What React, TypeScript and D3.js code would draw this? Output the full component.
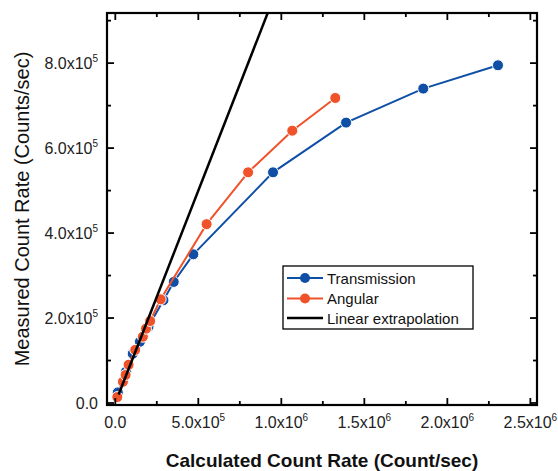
import React, { useEffect, useRef } from "react";
import * as d3 from "d3";

const transX = [1.5e4, 6.5e4, 1.05e5, 1.48e5, 2.0e5, 2.9e5, 3.52e5, 4.7e5, 9.5e5, 1.39e6, 1.855e6, 2.305e6];
const transY = [2.5e4, 7.4e4, 1.16e5, 1.44e5, 1.8e5, 2.42e5, 2.85e5, 3.5e5, 5.43e5, 6.6e5, 7.4e5, 7.95e5];
const angX = [1.2e4, 4.6e4, 6.2e4, 8.0e4, 1.2e5, 1.66e5, 1.85e5, 2.1e5, 2.73e5, 5.5e5, 8.0e5, 1.066e6, 1.325e6];
const angY = [1.4e4, 5.0e4, 6.6e4, 9.0e4, 1.25e5, 1.56e5, 1.75e5, 1.93e5, 2.44e5, 4.21e5, 5.43e5, 6.41e5, 7.18e5];
const linX = [2.0e4, 1.0e6];
const linY = [2.0e4, 1.0e6];

const xTicks = [0, 5e5, 1e6, 1.5e6, 2e6, 2.5e6];
const xTickLabels = [["0.0", ""], ["5.0x10", "5"], ["1.0x10", "6"], ["1.5x10", "6"], ["2.0x10", "6"], ["2.5x10", "6"]];
const yTicks = [0, 2e5, 4e5, 6e5, 8e5];
const yTickLabels = [["0.0", ""], ["2.0x10", "5"], ["4.0x10", "5"], ["6.0x10", "5"], ["8.0x10", "5"]];
const xMinor = [2.5e5, 7.5e5, 1.25e6, 1.75e6, 2.25e6];
const yMinor = [1e5, 3e5, 5e5, 7e5, 9e5];

const seriesNames = ["Transmission", "Angular", "Linear extrapolation"];
const colors = ["#0f4fa5", "#f0522a", "#000000"];

export default function App() {
  const ref = useRef<SVGSVGElement>(null);
  useEffect(() => {
    document.body.style.margin = "0";
    const svg = d3.select(ref.current);
    svg.selectAll("*").remove();
    const L = 107, R = 537, T = 13, B = 405;
    const x = d3.scaleLinear().domain([-5e4, 2.54e6]).range([L, R]);
    const y = d3.scaleLinear().domain([-4700, 9.18e5]).range([B, T]);
    const font = "Liberation Sans, Arial, sans-serif";

    svg.append("defs").append("clipPath").attr("id", "clip")
      .append("rect").attr("x", L).attr("y", T).attr("width", R - L).attr("height", B - T);

    const g = svg.append("g").attr("clip-path", "url(#clip)");
    const line = d3.line<[number, number]>().x(d => x(d[0])).y(d => y(d[1]));

    const drawSeries = (xs: number[], ys: number[], color: string) => {
      const pts = xs.map((v, i) => [v, ys[i]] as [number, number]);
      g.append("path").attr("d", line(pts)).attr("fill", "none").attr("stroke", color).attr("stroke-width", 2);
      g.selectAll(null).data(pts).enter().append("circle")
        .attr("cx", d => x(d[0])).attr("cy", d => y(d[1])).attr("r", 5.5)
        .attr("fill", color).attr("stroke", "#fff").attr("stroke-width", 1);
    };
    drawSeries(transX, transY, colors[0]);
    drawSeries(angX, angY, colors[1]);
    g.append("path").attr("d", line(linX.map((v, i) => [v, linY[i]] as [number, number])))
      .attr("fill", "none").attr("stroke", "#000").attr("stroke-width", 2.5);

    // frame
    svg.append("rect").attr("x", L).attr("y", T).attr("width", R - L).attr("height", B - T)
      .attr("fill", "none").attr("stroke", "#000").attr("stroke-width", 2.2);

    const ax = svg.append("g").attr("stroke", "#000").attr("stroke-width", 1.8);
    xTicks.forEach(t => {
      ax.append("line").attr("x1", x(t)).attr("x2", x(t)).attr("y1", B).attr("y2", B - 7);
      ax.append("line").attr("x1", x(t)).attr("x2", x(t)).attr("y1", T).attr("y2", T + 7);
    });
    xMinor.forEach(t => {
      ax.append("line").attr("x1", x(t)).attr("x2", x(t)).attr("y1", B).attr("y2", B - 4);
      ax.append("line").attr("x1", x(t)).attr("x2", x(t)).attr("y1", T).attr("y2", T + 4);
    });
    yTicks.forEach(t => {
      ax.append("line").attr("x1", L).attr("x2", L + 7).attr("y1", y(t)).attr("y2", y(t));
      ax.append("line").attr("x1", R).attr("x2", R - 7).attr("y1", y(t)).attr("y2", y(t));
    });
    yMinor.forEach(t => {
      ax.append("line").attr("x1", L).attr("x2", L + 4).attr("y1", y(t)).attr("y2", y(t));
      ax.append("line").attr("x1", R).attr("x2", R - 4).attr("y1", y(t)).attr("y2", y(t));
    });

    xTicks.forEach((t, i) => {
      const tx = svg.append("text").attr("x", x(t)).attr("y", 428).attr("text-anchor", "middle")
        .attr("font-family", font).attr("font-size", 16).attr("fill", "#222");
      tx.append("tspan").text(xTickLabels[i][0]);
      if (xTickLabels[i][1]) tx.append("tspan").attr("dy", -7).attr("font-size", 10).text(xTickLabels[i][1]);
    });
    yTicks.forEach((t, i) => {
      const tx = svg.append("text").attr("x", 98).attr("y", y(t) + 6).attr("text-anchor", "end")
        .attr("font-family", font).attr("font-size", 16).attr("fill", "#222");
      tx.append("tspan").text(yTickLabels[i][0]);
      if (yTickLabels[i][1]) tx.append("tspan").attr("dy", -7).attr("font-size", 10).text(yTickLabels[i][1]);
    });

    svg.append("text").attr("x", (L + R) / 2).attr("y", 467).attr("text-anchor", "middle")
      .attr("font-family", font).attr("font-size", 19).attr("font-weight", "bold").attr("fill", "#111")
      .text("Calculated Count Rate (Count/sec)");
    svg.append("text").attr("transform", `translate(29,${(T + B) / 2}) rotate(-90)`).attr("text-anchor", "middle")
      .attr("font-family", font).attr("font-size", 20).attr("fill", "#111")
      .text("Measured Count Rate (Counts/sec)");

    // legend
    const lg = svg.append("g");
    lg.append("rect").attr("x", 283).attr("y", 266).attr("width", 190).attr("height", 63)
      .attr("fill", "#fff").attr("stroke", "#000").attr("stroke-width", 1.3);
    const rows = [278, 298.5, 318];
    seriesNames.forEach((n, i) => {
      lg.append("line").attr("x1", 287).attr("x2", 323).attr("y1", rows[i]).attr("y2", rows[i])
        .attr("stroke", colors[i]).attr("stroke-width", i === 2 ? 2.5 : 2);
      if (i < 2) lg.append("circle").attr("cx", 305).attr("cy", rows[i]).attr("r", 5).attr("fill", colors[i]);
      lg.append("text").attr("x", 327).attr("y", rows[i] + 5.5).attr("font-family", font).attr("font-size", 15)
        .attr("fill", "#111").text(n);
    });
  }, []);
  return <svg ref={ref} width={558} height={471} style={{ display: "block", background: "#fff" }} />;
}
